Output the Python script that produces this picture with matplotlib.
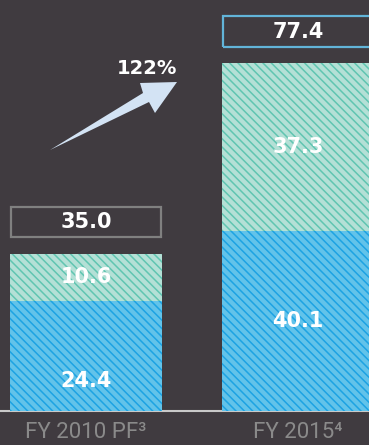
import matplotlib
matplotlib.use("Agg")
import matplotlib.pyplot as plt
from matplotlib.patches import Rectangle, Polygon

# data
categories = ["FY 2010 PF\u00b3", "FY 2015\u2074"]
lower_vals = [24.4, 40.1]
upper_vals = [10.6, 37.3]
totals = ["35.0", "77.4"]
growth_label = "122%"

BG = "#403b40"
BLUE_FILL, BLUE_HATCH = "#62c3ea", "#1da3e3"
TEAL_FILL, TEAL_HATCH = "#b4e0d6", "#60c5b1"

plt.rcParams["hatch.linewidth"] = 1.1

W, H = 369, 445
fig = plt.figure(figsize=(W / 100, H / 100), dpi=100, facecolor=BG)
ax = fig.add_axes([0, 0, 1, 1])
ax.set_facecolor(BG)

px_per_unit = 348 / 77.4
ax.set_ylim(-(H - 411) / px_per_unit, 411 / px_per_unit)
ax.set_xlim(-86 / 212, (W - 86) / 212)
ax.axis("off")

x = [0, 1]
width = 152 / 212

# baseline
ax.axhline(0, color="#c9c9c9", lw=1.5, zorder=1)

# stacked hatched bars (fill first, hatch on top)
for vals, bottom, fill, hatch in [
    (lower_vals, [0, 0], BLUE_FILL, BLUE_HATCH),
    (upper_vals, lower_vals, TEAL_FILL, TEAL_HATCH),
]:
    ax.bar(x, vals, width, bottom=bottom, color=fill, lw=0, zorder=2)
    ax.bar(x, vals, width, bottom=bottom, color="none", edgecolor=hatch,
           hatch="\\\\\\\\", lw=0, zorder=3)

# segment labels
lbl = dict(color="white", fontsize=15, fontweight="bold", ha="center",
           va="center", zorder=5)
for i in range(2):
    lo_y = lower_vals[i] * (0.27 if i == 0 else 0.5)
    ax.text(x[i], lo_y, f"{lower_vals[i]:.1f}", **lbl)
    ax.text(x[i], lower_vals[i] + upper_vals[i] / 2, f"{upper_vals[i]:.1f}", **lbl)

# total boxes
box_edges = ["#808080", "#62b4d9"]
for i in range(2):
    top = lower_vals[i] + upper_vals[i]
    y0, bh = top + 3.6, 6.8
    ax.add_patch(Rectangle((x[i] - width / 2 + 0.005, y0), width - 0.01, bh,
                           facecolor="none", edgecolor=box_edges[i], lw=1.6, zorder=4))
    ax.text(x[i], y0 + bh / 2, totals[i], **lbl)

# category labels
for i, c in enumerate(categories):
    ax.text(x[i], -(432 - 411) / px_per_unit, c, color="#8a8a8a", fontsize=16,
            family="Roboto", ha="center", va="center")

# growth arrow
pts = [(50, 150), (143, 93), (140, 83), (177, 82), (155, 113), (149, 102)]
arrow = Polygon([(px / W, 1 - py / H) for px, py in pts], closed=True,
                transform=ax.transAxes, facecolor="#d3e3f4", edgecolor="none", zorder=4)
ax.add_patch(arrow)
ax.text(147 / W, 1 - 68 / H, growth_label, transform=ax.transAxes, color="white",
        fontsize=14, fontweight="bold", ha="center", va="center")

fig.savefig("out.png", dpi=100, facecolor=BG)
